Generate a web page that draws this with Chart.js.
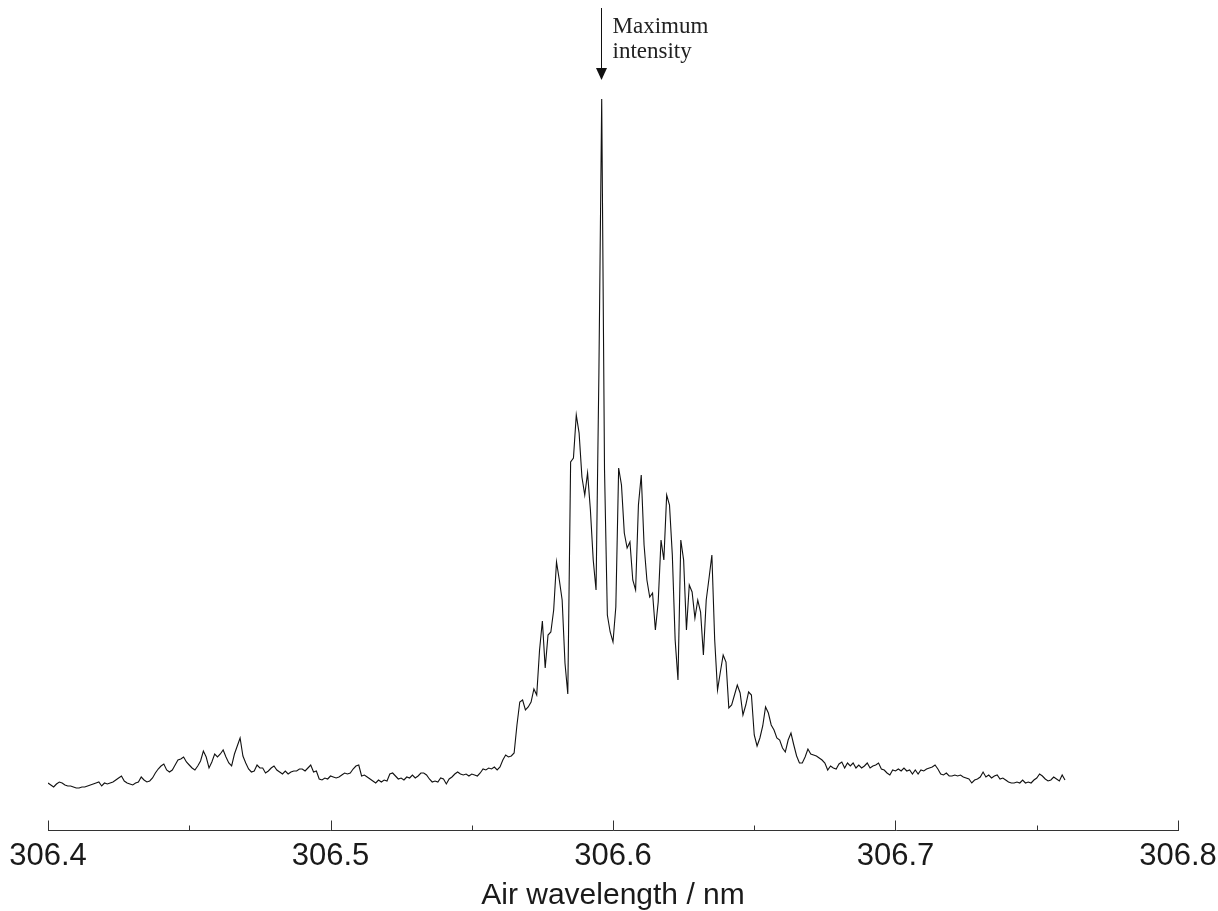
<!DOCTYPE html>
<html>
<head>
<meta charset="utf-8">
<script src="https://cdn.jsdelivr.net/npm/chart.js@4/dist/chart.umd.min.js"></script>
<style>
  html, body { margin: 0; padding: 0; background: #fff; }
  #wrap { width: 1218px; height: 911px; position: relative; }
</style>
</head>
<body>
<div id="wrap"><canvas id="spectrum"></canvas></div>
<script>
// wavelength samples (nm)
const wavelengths = [
  306.400,306.401,306.402,306.403,306.404,306.405,306.406,306.407,306.408,306.409,
  306.410,306.411,306.412,306.413,306.414,306.415,306.416,306.417,306.418,306.419,
  306.420,306.421,306.422,306.423,306.424,306.425,306.426,306.427,306.428,306.429,
  306.430,306.431,306.432,306.433,306.434,306.435,306.436,306.437,306.438,306.439,
  306.440,306.441,306.442,306.443,306.444,306.445,306.446,306.447,306.448,306.449,
  306.450,306.451,306.452,306.453,306.454,306.455,306.456,306.457,306.458,306.459,
  306.460,306.461,306.462,306.463,306.464,306.465,306.466,306.467,306.468,306.469,
  306.470,306.471,306.472,306.473,306.474,306.475,306.476,306.477,306.478,306.479,
  306.480,306.481,306.482,306.483,306.484,306.485,306.486,306.487,306.488,306.489,
  306.490,306.491,306.492,306.493,306.494,306.495,306.496,306.497,306.498,306.499,
  306.500,306.501,306.502,306.503,306.504,306.505,306.506,306.507,306.508,306.509,
  306.510,306.511,306.512,306.513,306.514,306.515,306.516,306.517,306.518,306.519,
  306.520,306.521,306.522,306.523,306.524,306.525,306.526,306.527,306.528,306.529,
  306.530,306.531,306.532,306.533,306.534,306.535,306.536,306.537,306.538,306.539,
  306.540,306.541,306.542,306.543,306.544,306.545,306.546,306.547,306.548,306.549,
  306.550,306.551,306.552,306.553,306.554,306.555,306.556,306.557,306.558,306.559,
  306.560,306.561,306.562,306.563,306.564,306.565,306.566,306.567,306.568,306.569,
  306.570,306.571,306.572,306.573,306.574,306.575,306.576,306.577,306.578,306.579,
  306.580,306.581,306.582,306.583,306.584,306.585,306.586,306.587,306.588,306.589,
  306.590,306.591,306.592,306.593,306.594,306.595,306.596,306.597,306.598,306.599,
  306.600,306.601,306.602,306.603,306.604,306.605,306.606,306.607,306.608,306.609,
  306.610,306.611,306.612,306.613,306.614,306.615,306.616,306.617,306.618,306.619,
  306.620,306.621,306.622,306.623,306.624,306.625,306.626,306.627,306.628,306.629,
  306.630,306.631,306.632,306.633,306.634,306.635,306.636,306.637,306.638,306.639,
  306.640,306.641,306.642,306.643,306.644,306.645,306.646,306.647,306.648,306.649,
  306.650,306.651,306.652,306.653,306.654,306.655,306.656,306.657,306.658,306.659,
  306.660,306.661,306.662,306.663,306.664,306.665,306.666,306.667,306.668,306.669,
  306.670,306.671,306.672,306.673,306.674,306.675,306.676,306.677,306.678,306.679,
  306.680,306.681,306.682,306.683,306.684,306.685,306.686,306.687,306.688,306.689,
  306.690,306.691,306.692,306.693,306.694,306.695,306.696,306.697,306.698,306.699,
  306.700,306.701,306.702,306.703,306.704,306.705,306.706,306.707,306.708,306.709,
  306.710,306.711,306.712,306.713,306.714,306.715,306.716,306.717,306.718,306.719,
  306.720,306.721,306.722,306.723,306.724,306.725,306.726,306.727,306.728,306.729,
  306.730,306.731,306.732,306.733,306.734,306.735,306.736,306.737,306.738,306.739,
  306.740,306.741,306.742,306.743,306.744,306.745,306.746,306.747,306.748,306.749,
  306.750,306.751,306.752,306.753,306.754,306.755,306.756,306.757,306.758,306.759,
  306.760
];

// relative intensity (arbitrary units)
const intensity = [
  47,45,43,46,48,47,45,44,44,43,
  42,42,43,43,44,45,46,47,48,44,
  47,46,47,48,50,52,54,49,47,46,
  45,47,48,53,50,48,49,52,57,61,
  64,66,60,58,60,65,70,71,73,68,
  65,62,60,64,69,79,73,62,68,76,
  73,76,80,73,67,64,76,84,92,74,
  67,61,58,59,65,62,62,57,59,62,
  64,60,58,56,59,56,58,59,59,61,
  61,59,62,65,58,59,51,50,52,51,
  54,53,52,53,55,57,56,57,61,64,
  65,54,55,53,51,49,47,50,48,50,
  49,56,57,54,51,52,50,53,52,55,
  52,54,57,57,55,51,48,49,48,52,
  51,46,51,53,56,58,56,55,56,54,
  56,55,54,57,61,60,62,61,63,60,
  63,70,75,73,74,77,105,128,130,120,
  123,128,141,135,180,209,162,195,198,220,
  268,250,230,167,136,368,372,415,397,353,
  335,357,320,270,240,455,731,360,215,198,
  188,223,362,345,297,282,288,250,240,325,
  355,285,250,233,237,200,228,290,270,335,
  325,275,190,150,290,270,200,245,238,212,
  230,218,175,230,252,275,190,140,158,175,
  168,122,125,135,145,137,115,125,138,135,
  95,84,92,104,123,117,105,100,92,90,
  82,78,90,97,85,74,67,67,73,81,
  76,75,74,72,70,67,60,64,62,61,
  66,68,62,67,64,67,62,65,62,64,
  67,62,64,65,67,61,60,57,55,60,
  59,61,59,62,59,60,56,60,56,60,
  59,61,62,63,65,61,56,55,57,54,
  54,55,54,55,53,52,51,47,50,51,
  53,58,53,55,52,54,55,51,52,50,
  48,47,47,48,47,50,47,48,47,50,
  52,56,54,51,49,50,53,51,49,55,
  50
];

const majorTicks = [306.4, 306.5, 306.6, 306.7, 306.8];
const minorTicks = [306.45, 306.55, 306.65, 306.75];
const noteLines = ['Maximum', 'intensity'];

const peakNm = wavelengths[intensity.indexOf(Math.max(...intensity))];

// upward tick marks on the bottom axis + the arrow note over the peak
const axisMarks = {
  id: 'axisMarks',
  afterDraw(chart) {
    const ctx = chart.ctx;
    const xs = chart.scales.x;
    const y0 = Math.round(xs.top) + 0.5;
    ctx.save();
    ctx.strokeStyle = '#333';
    ctx.lineWidth = 1;
    ctx.beginPath();
    majorTicks.forEach(v => {
      const px = Math.round(xs.getPixelForValue(v)) + 0.5;
      ctx.moveTo(px, y0);
      ctx.lineTo(px, y0 - 10);
    });
    minorTicks.forEach(v => {
      const px = Math.round(xs.getPixelForValue(v)) + 0.5;
      ctx.moveTo(px, y0);
      ctx.lineTo(px, y0 - 5);
    });
    ctx.stroke();

    const ax = Math.round(xs.getPixelForValue(peakNm)) - 0.5;
    ctx.strokeStyle = '#111';
    ctx.beginPath();
    ctx.moveTo(ax, 8);
    ctx.lineTo(ax, 70);
    ctx.stroke();
    ctx.fillStyle = '#111';
    ctx.beginPath();
    ctx.moveTo(ax - 5.5, 68);
    ctx.lineTo(ax + 5.5, 68);
    ctx.lineTo(ax, 80);
    ctx.closePath();
    ctx.fill();

    ctx.fillStyle = '#222';
    ctx.font = '23px "Liberation Serif", "Times New Roman", serif';
    ctx.textAlign = 'left';
    ctx.textBaseline = 'alphabetic';
    noteLines.forEach((t, i) => ctx.fillText(t, ax + 11, 33 + i * 25));
    ctx.restore();
  }
};

new Chart(document.getElementById('spectrum'), {
  type: 'line',
  data: {
    datasets: [{
      data: wavelengths.map((w, i) => ({ x: w, y: intensity[i] })),
      borderColor: '#111',
      borderWidth: 1.1,
      pointRadius: 0,
      tension: 0,
      fill: false,
    }],
  },
  options: {
    responsive: true, maintainAspectRatio: false,
    animation: false,
    layout: { padding: { left: 48, right: 40, top: 10, bottom: 0 } },
    plugins: { legend: { display: false }, tooltip: { enabled: false } },
    scales: {
      x: {
        type: 'linear',
        min: 306.4, max: 306.8,
        afterBuildTicks: s => { s.ticks = majorTicks.map(v => ({ value: v })); },
        afterFit: s => { s.height = 81; s.paddingLeft = 0; s.paddingRight = 0; },
        grid: { display: false, drawTicks: false },
        border: { display: true, color: '#333', width: 1 },
        ticks: {
          autoSkip: false, maxRotation: 0, padding: 8,
          color: '#1a1a1a',
          font: { family: '"Liberation Sans", Arial, sans-serif', size: 31 },
          callback: v => Number(v).toFixed(1),
        },
        title: {
          display: true, text: 'Air wavelength / nm',
          color: '#1a1a1a',
          font: { family: '"Liberation Sans", Arial, sans-serif', size: 30, lineHeight: 1 },
          padding: { top: 6, bottom: 0 },
        },
      },
      y: { display: false, min: 0, max: 820 },
    },
  },
  plugins: [axisMarks],
});
</script>
</body>
</html>
